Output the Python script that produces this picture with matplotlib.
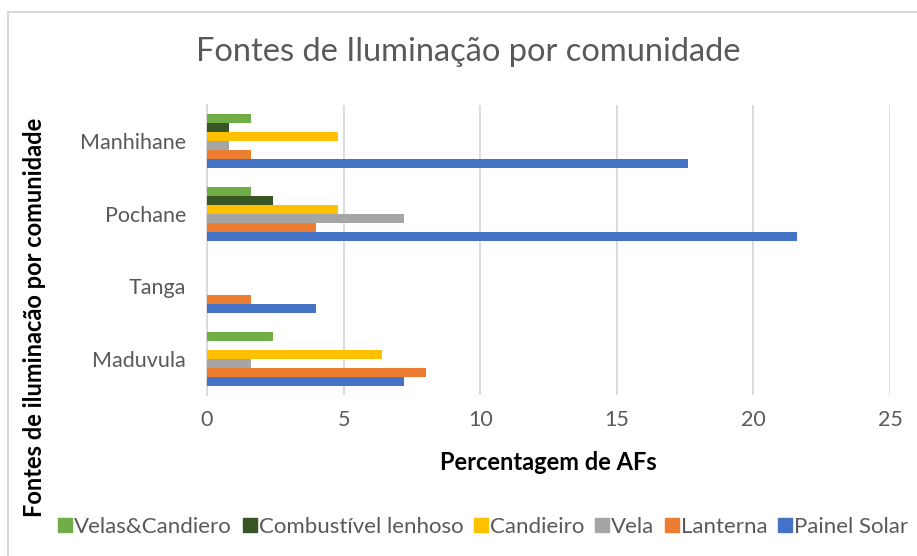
import numpy as np
import matplotlib
matplotlib.use("Agg")
import matplotlib.pyplot as plt
from matplotlib.lines import Line2D

plt.rcParams['font.family'] = ['Lato', 'DejaVu Sans']

# data (categories bottom -> top, as Excel draws them)
comunidades = ["Maduvula", "Tanga", "Pochane", "Manhihane"]
series = ["Painel Solar", "Lanterna", "Vela", "Candieiro",
          "Combustível lenhoso", "Velas&Candiero"]
painel_solar = [7.2, 4.0, 21.6, 17.6]
lanterna = [8.0, 1.6, 4.0, 1.6]
vela = [1.6, 0, 7.2, 0.8]
candieiro = [6.4, 0, 4.8, 4.8]
combustivel = [0, 0, 2.4, 0.8]
velas_candiero = [2.4, 0, 1.6, 1.6]
values = [painel_solar, lanterna, vela, candieiro, combustivel, velas_candiero]
colors = ["#4472C4", "#ED7D31", "#A5A5A5", "#FFC000", "#375623", "#70AD47"]
xticks = [0, 5, 10, 15, 20, 25]

grey = "#595959"

fig = plt.figure(figsize=(9.17, 5.56), dpi=100)
ax = fig.add_axes([207/917, 1-395/556, 683/917, 290/556])

y = np.arange(len(comunidades))
h = 0.124
for i, (name, vals) in enumerate(zip(series, values)):
    off = (i - 2.5) * h
    ax.barh(y + off, vals, height=h, color=colors[i], label=name, zorder=3)

ax.set_xlim(0, 25)
ax.set_ylim(-0.5, 3.5)
ax.set_xticks(xticks)
ax.set_yticks(y)
ax.set_yticklabels(comunidades)
ax.tick_params(length=0, labelsize=15.5, labelcolor=grey)
ax.tick_params(axis='x', pad=11)
ax.tick_params(axis='y', pad=15)
ax.grid(axis='x', color="#d9d9d9", lw=1.3, zorder=0)
for s in ['top', 'right', 'bottom']:
    ax.spines[s].set_visible(False)
ax.spines['left'].set_color("#d9d9d9")
ax.spines['left'].set_linewidth(1.3)

fig.text(0.511, 0.906, "Fontes de Iluminação por comunidade",
         ha='center', va='center', fontsize=23.5, color=grey)
fig.text(0.598, 0.169, "Percentagem de AFs", ha='center', va='center',
         fontsize=17, fontweight='bold', color='black')
fig.text(0.038, 0.43, "Fontes de iluminacão por comunidade", rotation=90,
         ha='center', va='center', fontsize=17, fontweight='bold',
         color='black')

handles = [Line2D([], [], marker='s', ls='', color=colors[i], markersize=10)
           for i in range(len(series))][::-1]
fig.legend(handles, series[::-1], loc='center', bbox_to_anchor=(0.528, 0.052),
           ncol=6, frameon=False, fontsize=16, handlelength=0.5,
           handletextpad=0.15, columnspacing=0.55, labelcolor=grey,
           borderaxespad=0)

# chart frame (left and top edges visible)
fig.add_artist(Line2D([8/917, 8/917], [0, 1-12/556], color="#d9d9d9", lw=1.5,
                      transform=fig.transFigure))
fig.add_artist(Line2D([8/917, 1], [1-12/556, 1-12/556], color="#d9d9d9", lw=1.5,
                      transform=fig.transFigure))

fig.savefig("out.png", dpi=100)
